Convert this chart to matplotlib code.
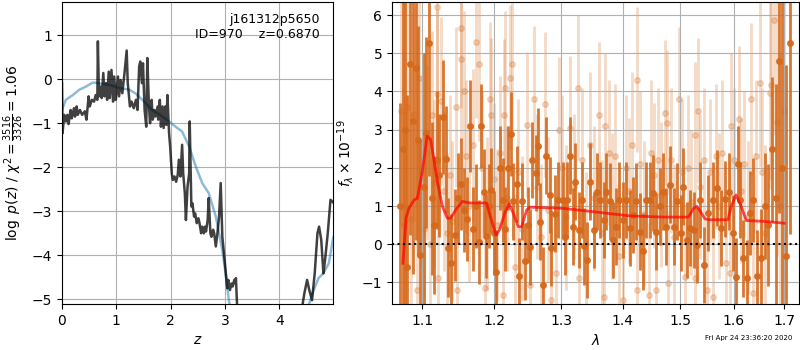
import matplotlib
matplotlib.use('Agg')
import matplotlib.pyplot as plt
from matplotlib.ticker import NullLocator

# --- left panel: log p(z) ---
z_pz = [0.00, 0.01, 0.04, 0.07, 0.10, 0.12, 0.16, 0.18, 0.22, 0.24, 0.27, 0.29, 0.33, 0.37,
        0.42, 0.45, 0.49, 0.51, 0.55, 0.59, 0.62, 0.65, 0.66, 0.68, 0.71, 0.73, 0.76, 0.78,
        0.81, 0.83, 0.86, 0.88, 0.91, 0.94, 0.96, 0.99, 1.03, 1.05, 1.08, 1.11, 1.15, 1.19,
        1.21, 1.25, 1.28, 1.32, 1.36, 1.39, 1.42, 1.44, 1.47, 1.49, 1.52, 1.55, 1.57, 1.60,
        1.62, 1.65, 1.67, 1.70, 1.72, 1.76, 1.77, 1.80, 1.82, 1.85, 1.87, 1.90, 1.92, 1.94,
        1.97, 1.99, 2.02, 2.04, 2.07, 2.10, 2.13, 2.15, 2.18, 2.21, 2.23, 2.26, 2.28, 2.31,
        2.34, 2.35, 2.38, 2.40, 2.43, 2.45, 2.48, 2.51, 2.53, 2.56, 2.58, 2.61, 2.63, 2.65,
        2.68, 2.70, 2.73, 2.75, 2.78, 2.80, 2.83, 2.86, 2.89, 2.92, 2.95, 2.98, 3.02, 3.04,
        3.06, 3.09, 3.12, 3.14, 3.17, 3.19, 3.20, 3.22, 3.30, 3.60, 4.00, 4.30, 4.40, 4.43,
        4.46, 4.51, 4.55, 4.60, 4.65, 4.70, 4.73, 4.77, 4.81, 4.84, 4.89, 4.94, 4.99]
logpz = [-0.09, -1.23, -0.81, -0.96, -0.81, -1.02, -0.70, -0.89, -0.66, -0.85, -0.62, -0.81,
         -0.70, -0.81, -0.73, -0.92, -0.39, -0.62, -0.47, -0.51, -0.36, -0.47, 0.86, -0.39,
         -0.17, -0.43, 0.14, -0.39, -0.09, -0.47, 0.17, -0.43, 0.21, -0.51, 0.06, -0.47,
         0.06, -0.39, -0.02, -0.32, 0.14, 0.65, -0.09, -0.62, -0.51, -0.66, -0.47, -0.70,
         0.29, 0.40, -0.09, 0.36, -0.70, -1.08, 0.48, -0.62, -1.00, -0.47, -0.92, -0.70,
         -0.85, -0.62, -0.92, -0.47, -1.08, -0.62, -1.11, -0.62, -1.04, -0.36, -1.23, -1.53,
         -2.14, -2.29, -2.21, -2.33, -2.17, -1.83, -2.21, -1.49, -2.14, -2.59, -3.20, -2.44,
         -2.14, -0.96, -2.89, -2.82, -3.12, -3.05, -3.27, -3.16, -3.27, -3.50, -3.35, -3.50,
         -3.35, -3.46, -3.20, -2.70, -3.50, -3.58, -3.42, -3.50, -3.80, -3.50, -3.12, -2.36,
         -3.58, -3.95, -4.48, -4.75, -4.56, -4.79, -4.64, -4.71, -4.56, -4.64, -4.52, -5.09,
         -6.2, -7.5, -8.0, -6.6, -5.6, -5.09, -4.86, -4.56, -4.79, -5.02, -4.41, -3.50,
         -3.35, -3.65, -4.41, -4.11, -3.50, -2.74, -2.80]

z_prior = [0.00, 0.07, 0.20, 0.32, 0.44, 0.56, 0.62, 0.75, 0.87, 1.05, 1.24, 1.36, 1.48,
           1.66, 1.85, 1.97, 2.09, 2.21, 2.34, 2.46, 2.58, 2.70, 2.83, 2.95, 3.01, 3.07,
           3.13, 3.40, 3.80, 4.20, 4.54, 4.63, 4.72, 4.81, 4.91, 4.99]
logp_prior = [-0.70, -0.47, -0.36, -0.24, -0.17, -0.08, -0.08, -0.11, -0.13, -0.20, -0.24,
              -0.33, -0.47, -0.70, -0.85, -0.96, -1.08, -1.19, -1.53, -1.98, -2.36, -2.59,
              -3.12, -3.88, -4.41, -5.02, -5.47, -7.0, -8.0, -7.0, -5.13, -4.79, -4.52,
              -4.41, -4.18, -3.60]

# --- right panel: spectrum ---
# strong grism points (wavelength [um], flux, error)
wave_a = [1.0715, 1.0745, 1.0775, 1.0804, 1.0846, 1.0883, 1.0917, 1.0946, 1.0979, 1.1020,
          1.1059, 1.1091, 1.1130, 1.1160, 1.1195, 1.1230, 1.1286, 1.1318, 1.1350, 1.1386,
          1.1441, 1.1480, 1.1523, 1.1565, 1.1605, 1.1650, 1.1695, 1.1735, 1.1773, 1.1805,
          1.1850, 1.1886, 1.1920, 1.1955, 1.1990, 1.2025, 1.2075, 1.2125, 1.2160, 1.2200,
          1.2235, 1.2265, 1.2325, 1.2365, 1.2400, 1.2450, 1.2490, 1.2525, 1.2560, 1.2615,
          1.2650, 1.2675, 1.2725, 1.2765, 1.2825, 1.2850, 1.2900, 1.2950, 1.3027, 1.3060,
          1.3093, 1.3148, 1.3191, 1.3219, 1.3290, 1.3328, 1.3366, 1.3410, 1.3464, 1.3519,
          1.3574, 1.3628, 1.3683, 1.3727, 1.3781, 1.3836, 1.3891, 1.3945, 1.4000, 1.4058,
          1.4128, 1.4174, 1.4233, 1.4291, 1.4349, 1.4407, 1.4465, 1.4523, 1.4581, 1.4640,
          1.4698, 1.4756, 1.4814, 1.4884, 1.4942, 1.5012, 1.5061, 1.5123, 1.5184, 1.5245,
          1.5307, 1.5368, 1.5442, 1.5521, 1.5613, 1.5675, 1.5748, 1.5828, 1.5908, 1.5982,
          1.6046, 1.6080, 1.6112, 1.6178, 1.6257, 1.6309, 1.6375, 1.6460, 1.6539, 1.6610,
          1.6680, 1.6760, 1.6830, 1.6895, 1.6960, 1.7046, 1.7112]
flux_a = [1.00, 2.50, 3.00, -0.59, 4.73, 3.22, 4.62, 2.72, -0.28, 1.50,
          2.92, 5.28, 1.20, 0.50, 2.21, 1.80, 3.33, 2.23, -0.09, -0.50,
          0.24, 1.20, 1.57, 0.90, 0.66, 3.10, 0.39, 1.00, 0.07, 3.09,
          1.38, 0.22, 1.00, 1.43, 0.30, -0.72, 1.99, 1.16, 0.40, 1.99,
          2.89, 1.12, 1.57, -0.83, 1.12, -0.45, 0.50, -0.08, 2.20, 1.86,
          2.56, 0.59, -1.07, 2.32, 1.29, -0.10, 0.80, 1.16, 1.16, 0.20,
          1.16, 2.32, 0.46, 1.64, 0.38, 1.16, -0.06, -0.41, 1.64, 0.38,
          1.38, 1.16, 0.64, 1.38, 1.12, 0.11, 0.46, 1.16, 0.64, 1.16,
          0.42, 0.77, 1.12, 0.33, -0.19, 1.16, 1.16, 1.34, 0.33, 0.99,
          1.38, 0.46, 1.56, 0.46, 1.12, 0.29, 1.51, 0.11, 0.42, 0.38,
          -0.02, 1.16, -0.54, 0.81, 1.16, 1.47, 0.42, 1.18, 1.38, 0.29,
          -0.85, 2.10, 1.16, -0.37, -0.89, 0.81, 1.16, -0.83, -0.37, 1.00,
          0.50, 2.49, 1.20, 4.81, 2.00, -0.32, 5.26]
err_a = [2.7, 5.0, 5.0, 4.5, 4.5, 4.0, 4.5, 3.0, 3.0, 3.5,
         2.5, 3.5, 2.0, 1.8, 1.8, 1.6, 1.5, 1.4, 1.3, 1.3,
         1.2, 1.2, 1.2, 1.1, 1.1, 1.2, 1.1, 1.1, 1.1, 1.1,
         1.1, 1.1, 1.1, 1.1, 1.1, 1.1, 1.1, 1.1, 1.1, 1.1,
         1.1, 1.0, 1.0, 1.0, 1.0, 1.0, 1.0, 1.0, 1.0, 1.0,
         1.0, 1.0, 1.0, 1.0, 1.0, 1.0, 1.0, 1.0, 1.0, 1.0,
         1.0, 1.0, 1.0, 1.0, 1.0, 1.0, 1.0, 1.0, 1.0, 1.0,
         1.0, 1.0, 1.0, 1.0, 1.0, 1.0, 1.0, 1.0, 1.0, 1.0,
         1.0, 1.0, 1.0, 1.0, 1.0, 1.0, 1.0, 1.0, 1.0, 1.0,
         1.0, 1.0, 1.0, 1.0, 1.0, 1.0, 1.0, 1.0, 1.0, 1.0,
         1.0, 1.0, 1.0, 1.0, 1.0, 1.0, 1.0, 1.0, 1.0, 1.0,
         1.0, 1.0, 1.0, 1.0, 1.0, 1.1, 1.1, 1.2, 1.3, 1.4,
         1.6, 1.9, 3.0, 4.0, 5.0, 5.0, 5.0]

# second (fainter) grism spectrum
wave_b = [1.0720, 1.0760, 1.0800, 1.0850, 1.0890, 1.0929, 1.0958, 1.0990, 1.1030, 1.1060,
          1.1100, 1.1127, 1.1160, 1.1195, 1.1205, 1.1214, 1.1259, 1.1290, 1.1330, 1.1370,
          1.1410, 1.1455, 1.1470, 1.1523, 1.1530, 1.1568, 1.1600, 1.1640, 1.1690, 1.1741,
          1.1786, 1.1820, 1.1864, 1.1900, 1.1932, 1.1945, 1.1990, 1.2040, 1.2080, 1.2125,
          1.2140, 1.2150, 1.2190, 1.2225, 1.2250, 1.2300, 1.2340, 1.2400, 1.2475, 1.2525,
          1.2585, 1.2630, 1.2690, 1.2750, 1.2800, 1.2850, 1.2925, 1.2975, 1.3020, 1.3080,
          1.3137, 1.3200, 1.3273, 1.3290, 1.3340, 1.3400, 1.3460, 1.3520, 1.3601, 1.3650,
          1.3683, 1.3710, 1.3770, 1.3830, 1.3880, 1.3940, 1.4012, 1.4050, 1.4100, 1.4160,
          1.4244, 1.4250, 1.4300, 1.4360, 1.4448, 1.4490, 1.4540, 1.4564, 1.4610, 1.4660,
          1.4738, 1.4767, 1.4780, 1.4840, 1.4900, 1.4990, 1.5040, 1.5092, 1.5140, 1.5200,
          1.5264, 1.5276, 1.5319, 1.5370, 1.5430, 1.5490, 1.5550, 1.5613, 1.5660, 1.5720,
          1.5780, 1.5859, 1.5920, 1.5951, 1.6010, 1.6099, 1.6150, 1.6200, 1.6280, 1.6342,
          1.6375, 1.6430, 1.6507, 1.6560, 1.6620, 1.6717, 1.6737, 1.6789, 1.6850, 1.6920,
          1.7000]
flux_b = [3.50, 0.50, 3.60, 0.65, 3.40, -1.20, 4.36, 1.90, 0.40, 2.40,
          0.00, 3.38, 1.60, 3.94, 6.22, -0.89, 3.75, 1.40, 0.30, 1.80,
          0.60, 3.60, -1.20, 5.67, 4.84, 4.00, 2.30, 1.00, 2.60, 5.30,
          4.71, 2.00, -1.15, 0.80, 3.81, 3.39, 1.70, 0.50, 2.40, -1.33,
          3.38, 4.10, 1.20, 4.36, 4.72, -0.59, 1.90, 0.40, 3.13, -1.07,
          3.81, 1.50, 0.20, 3.67, 0.90, -1.46, -0.76, 3.00, 2.00, 0.70,
          3.04, 1.50, 4.10, -0.89, 2.20, 0.00, 2.60, 1.20, 3.39, 0.30,
          -1.37, 3.10, 2.40, 1.00, 2.30, -0.30, -1.46, 2.00, 1.40, 2.60,
          4.31, -1.20, 2.10, 0.80, -1.33, 2.40, 1.80, -1.20, 2.20, 1.30,
          3.44, 3.18, -1.02, 2.20, 0.20, 3.79, 1.90, -0.85, 2.00, 1.10,
          2.87, -0.89, 3.50, 1.50, 2.20, -1.20, 1.90, -1.37, 2.30, 1.00,
          2.40, -0.50, -0.76, 3.10, 2.20, 3.29, 1.40, 2.10, 0.70, 3.79,
          -1.29, 2.30, 4.23, 1.90, 0.30, 3.95, 4.18, 5.86, 3.20, 1.00,
          3.50]
err_b = [3.0, 3.0, 3.0, 2.8, 2.8, 2.5, 2.5, 2.5, 2.4, 2.3,
         2.3, 2.2, 2.2, 2.2, 2.2, 2.2, 2.2, 2.1, 2.1, 2.1,
         2.1, 2.1, 2.1, 2.1, 2.1, 2.1, 2.0, 2.0, 2.0, 2.0,
         2.0, 2.0, 2.0, 2.0, 2.0, 2.0, 2.0, 2.0, 2.0, 2.0,
         2.0, 2.0, 1.9, 1.9, 1.9, 1.9, 1.9, 1.9, 1.9, 1.9,
         1.9, 1.9, 1.9, 1.9, 1.9, 1.9, 1.9, 1.9, 1.9, 1.9,
         1.9, 1.9, 1.9, 1.9, 1.9, 1.9, 1.9, 1.9, 1.9, 1.9,
         1.9, 1.9, 1.9, 1.9, 1.9, 1.9, 1.9, 1.9, 1.9, 1.9,
         1.9, 1.9, 1.9, 1.9, 1.9, 1.9, 1.9, 1.9, 1.9, 1.9,
         1.9, 1.9, 1.9, 1.9, 1.9, 1.9, 1.9, 1.9, 1.9, 1.9,
         1.9, 1.9, 1.9, 1.9, 1.9, 1.9, 1.9, 1.9, 1.9, 1.9,
         1.9, 1.9, 1.9, 1.9, 1.9, 1.9, 1.9, 1.9, 2.0, 2.0,
         2.0, 2.0, 2.2, 2.2, 2.3, 2.5, 2.5, 3.0, 3.5, 4.0,
         4.5]

# best-fit model
wave_model = [1.075, 1.079, 1.083, 1.0896, 1.0938, 1.100, 1.1068, 1.1114, 1.1159, 1.1205,
              1.1273, 1.1341, 1.1386, 1.1455, 1.1545, 1.1659, 1.1886, 1.1955, 1.2025,
              1.2075, 1.215, 1.2215, 1.2275, 1.235, 1.240, 1.2475, 1.2525, 1.3027, 1.3574,
              1.4128, 1.471, 1.5153, 1.5245, 1.5307, 1.5368, 1.546, 1.5552, 1.5889, 1.5951,
              1.6046, 1.6145, 1.6243, 1.6572, 1.6836, 1.700]
flux_model = [-0.50, 0.68, 0.95, 1.16, 1.20, 1.86, 2.83, 2.74, 2.21, 1.64,
              0.99, 0.68, 0.68, 0.90, 1.12, 1.08, 1.08, 0.64, 0.24,
              0.38, 0.81, 1.06, 0.81, 0.46, 0.46, 0.90, 0.97, 0.94, 0.84,
              0.74, 0.71, 0.71, 0.94, 0.99, 0.86, 0.66, 0.64, 0.64, 0.99,
              1.29, 0.99, 0.62, 0.60, 0.57, 0.55]

wave_ticks = [1.1, 1.2, 1.3, 1.4, 1.5, 1.6, 1.7]

fig = plt.figure(figsize=(8, 3.5), dpi=100)

ax1 = fig.add_axes([0.0775, 0.131, 0.339, 0.863])
ax1.plot(z_prior, logp_prior, color='tab:blue', alpha=0.5, lw=1.8)
ax1.plot(z_pz, logpz, color='k', alpha=0.75, lw=1.8)
ax1.set_xlim(0, 4.99)
ax1.set_ylim(-5.11, 1.75)
ax1.set_xticks([0, 1, 2, 3, 4])
ax1.set_yticks([-5, -4, -3, -2, -1, 0, 1])
ax1.grid(True)
ax1.set_xlabel(r'$z$')
ax1.set_ylabel(r'$\log\ p(z)$' + ' / ' + r'$\chi^2=\frac{3516}{3326}=1.06$')
ax1.text(0.95, 0.965, 'j161312p5650\nID=970    z=0.6870', transform=ax1.transAxes,
         ha='right', va='top', fontsize=9)

ax2 = fig.add_axes([0.49, 0.131, 0.509, 0.863])
ax2.errorbar(wave_b, flux_b, yerr=err_b, fmt='o', color='#d5691b', alpha=0.25,
             ms=4, elinewidth=2, capsize=0, zorder=1)
ax2.errorbar(wave_a, flux_a, yerr=err_a, fmt='o', color='#d5691b', alpha=0.9,
             ms=4, elinewidth=2, capsize=0, zorder=2)
ax2.plot(wave_model, flux_model, color='r', alpha=0.7, lw=2, zorder=3)
ax2.axhline(0, color='k', ls=':', lw=1.5, zorder=4)
ax2.set_xscale('log')
ax2.set_xlim(1.061, 1.731)
ax2.set_ylim(-1.57, 6.34)
ax2.set_xticks(wave_ticks)
ax2.set_xticklabels([str(t) for t in wave_ticks])
ax2.xaxis.set_minor_locator(NullLocator())
ax2.grid(True)
ax2.set_xlabel(r'$\lambda$')
ax2.set_ylabel(r'$f_\lambda\times10^{-19}$')

fig.text(0.99, 0.025, 'Fri Apr 24 23:36:20 2020', ha='right', va='bottom', fontsize=5)

fig.savefig('out.png', dpi=100)
